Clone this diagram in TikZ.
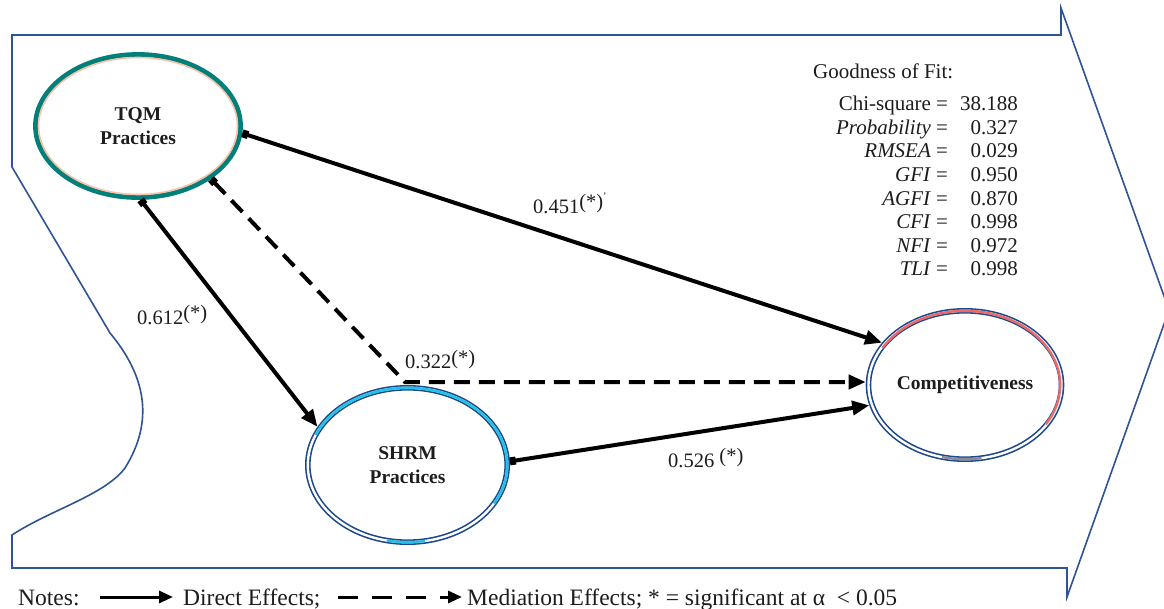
\documentclass[tikz,border=0pt]{standalone}
\usepackage{fontspec}
\setmainfont{Liberation Serif}
\usetikzlibrary{shapes.geometric,arrows.meta,calc}
\definecolor{frameblue}{RGB}{46,84,150}
\definecolor{tealc}{RGB}{0,128,120}
\definecolor{peach}{RGB}{248,192,168}
\definecolor{navyc}{RGB}{28,72,140}
\definecolor{cyanc}{RGB}{30,195,232}
\definecolor{salmon}{RGB}{238,104,104}
\definecolor{greyc}{RGB}{140,140,150}
\definecolor{txt}{RGB}{30,28,28}
\begin{document}
\begin{tikzpicture}[x=1pt,y=-1pt,
  frame/.style={draw=frameblue, line width=1.6pt, line join=miter},
  latent/.style={ellipse, inner sep=0pt, align=center, text=txt,
    font=\fontsize{19.5}{24}\selectfont\bfseries},
  lbl/.style={anchor=base west, inner sep=0pt, text=txt, font=\fontsize{20.5}{24}\selectfont},
  eff/.style={line width=4pt, {Square[length=6pt,width=8pt]}-{Triangle[length=17pt,width=14pt]}},
  med/.style={eff, dash pattern=on 16pt off 9pt},
  legtxt/.style={anchor=base west, inner sep=0pt, text=txt, font=\fontsize{23.5}{26}\selectfont},
  legarrow/.style={line width=3pt, -{Triangle[length=14pt,width=12pt]}},
  legdash/.style={legarrow, dash pattern=on 20pt off 14pt}
]
\useasboundingbox (0,0) rectangle (1164,609);
\fill[white] (0,0) rectangle (1164,609);

% background arrow frame
\draw[frame] (12,35) -- (1061,35) -- (1061,8) -- (1169,310) -- (1067,597) -- (1067,568)
  -- (12,568) -- (12,535) .. controls (50,510) and (105,495) .. (125,468)
  .. controls (155,420) and (145,375) .. (110,333) -- (12,167) -- cycle;

% latent variables
\node[latent, draw=tealc, line width=4.8pt, minimum width=205pt, minimum height=143pt, outer sep=2.4pt]
  (tqm) at (138,126) {TQM\\Practices};
\draw[peach, line width=1.6pt] (tqm.center) ellipse [x radius=99.5, y radius=68.5];

\node[latent, draw=navyc, line width=1.6pt, double=white, double distance=2.4pt,
  minimum width=199.4pt, minimum height=154.4pt, outer sep=2.8pt]
  (shrm) at (407.5,465) {SHRM\\Practices};
\begin{scope}[shift={(shrm.center)}, y=1pt]
  \draw[cyanc, line width=2.4pt] (157:99.7 and 77.2) arc[start angle=157, end angle=-30, x radius=99.7, y radius=77.2];
  \draw[cyanc, line width=2.4pt] (-102:99.7 and 77.2) arc[start angle=-102, end angle=-80, x radius=99.7, y radius=77.2];
\end{scope}

\node[latent, draw=navyc, line width=1.6pt, double=white, double distance=2.4pt,
  minimum width=190.4pt, minimum height=148.4pt, outer sep=2.8pt]
  (comp) at (965,385) {Competitiveness};
\begin{scope}[shift={(comp.center)}, y=1pt]
  \draw[salmon, line width=2.4pt] (150:95.2 and 74.2) arc[start angle=150, end angle=-32, x radius=95.2, y radius=74.2];
  \draw[greyc, line width=2.4pt] (-104:95.2 and 74.2) arc[start angle=-104, end angle=-80, x radius=95.2, y radius=74.2];
\end{scope}

% paths
\coordinate (mj) at (405,382);
\draw[eff] (tqm.-4) -- (comp.153);
\draw[eff] (tqm.-88) -- (shrm.157);
\draw[eff] (shrm.2) -- (comp.192);
\draw[med] (tqm.-36) -- (mj) -- (mj -| comp.west);

% path labels
\node[lbl] (l451) at (533,214) {0.451\raisebox{5pt}{(*)}\raisebox{14pt}{\fontsize{10}{10}\selectfont'}};
\node[lbl] (l612) at (137,325) {0.612\raisebox{5pt}{(*)}};
\node[lbl] (l322) at (405,369) {0.322\raisebox{5pt}{(*)}};
\node[lbl] (l526) at (668,467) {0.526 \raisebox{5pt}{(*)}};

% goodness of fit
\node[anchor=base west, inner sep=0pt, text=txt, font=\fontsize{21}{23.6}\selectfont] (gof) at (813,79) {Goodness of Fit:};
\node[anchor=north east, inner sep=0pt, text=txt, font=\fontsize{21}{23.6}\selectfont] (fit) at (1018,94) {%
\begin{tabular}{@{}r@{\hspace{12pt}}r@{}}
Chi-square = & 38.188\\
\textit{Probability} = & 0.327\\
\textit{RMSEA} = & 0.029\\
\textit{GFI} = & 0.950\\
\textit{AGFI} = & 0.870\\
\textit{CFI} = & 0.998\\
\textit{NFI} = & 0.972\\
\textit{TLI} = & 0.998
\end{tabular}};

% legend
\node[legtxt] (notes) at (18,605) {Notes:};
\coordinate (la1) at (100,597);
\coordinate (la2) at (173,597);
\draw[legarrow] (la1) -- (la2);
\node[legtxt] (direct) at (183,605) {Direct Effects;};
\coordinate (lb1) at (338,597);
\coordinate (lb2) at (462,597);
\draw[legdash] (lb1) -- (lb2);
\node[legtxt] (mediation) at (467,605) {Mediation Effects; * = significant at α\ \ < 0.05};
\end{tikzpicture}
\end{document}
